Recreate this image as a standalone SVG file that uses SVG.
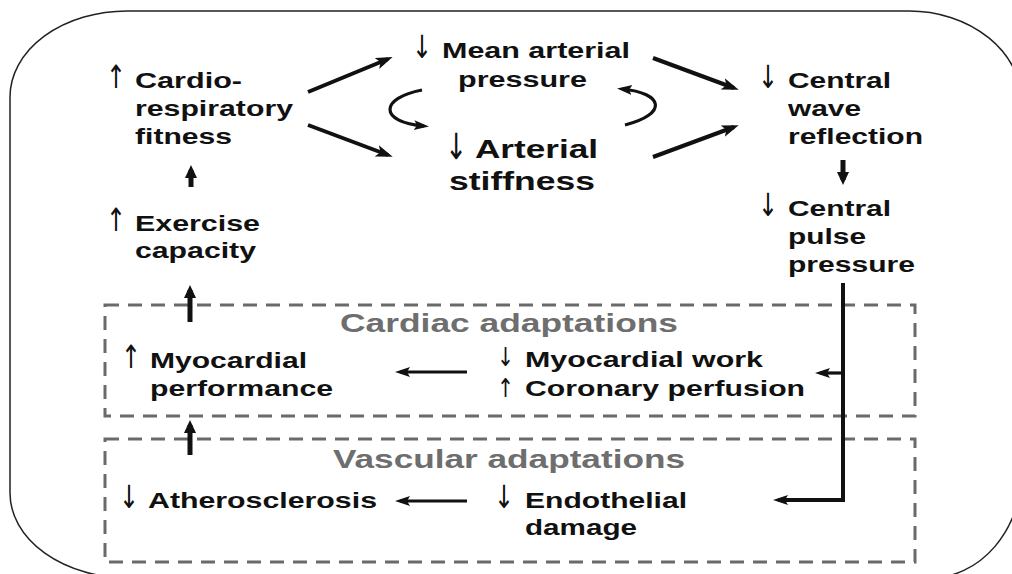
<svg xmlns="http://www.w3.org/2000/svg" width="1012" height="574" viewBox="0 0 1012 574">
<defs>
<style>
.t{font-family:"Liberation Sans",Arial,sans-serif;font-weight:bold;font-size:22px;fill:#111}
.big{font-size:26px}
.hdr{font-family:"Liberation Sans",Arial,sans-serif;font-weight:bold;font-size:25px;fill:#6e6e6e}
.ar{font-family:"DejaVu Sans",sans-serif;font-weight:normal;font-size:32px;fill:#111}
.ars{font-family:"DejaVu Sans",sans-serif;font-weight:normal;font-size:26px;fill:#111}
.c{stroke:#111;stroke-width:4;fill:none}
.c3{stroke:#111;stroke-width:3.2;fill:none}
.box{fill:none;stroke:#6a6a6a;stroke-width:3;stroke-dasharray:14 9}
</style>
<marker id="ah" markerUnits="userSpaceOnUse" markerWidth="18" markerHeight="14" refX="12" refY="6" orient="auto" viewBox="0 0 18 14">
<path d="M0,0 L17,6 L0,12 L4,6 z" fill="#111"/>
</marker>
<marker id="ahs" markerUnits="userSpaceOnUse" markerWidth="16" markerHeight="12" refX="10" refY="5" orient="auto" viewBox="0 0 16 12">
<path d="M0,0 L15,5 L0,10 L3,5 z" fill="#111"/>
</marker>
<marker id="ahv" markerUnits="userSpaceOnUse" markerWidth="16" markerHeight="16" refX="8" refY="6" orient="auto" viewBox="0 0 16 16">
<path d="M0,0 L13,6 L0,12 z" fill="#111"/>
</marker>
</defs>
<rect width="1012" height="574" fill="#fff"/>
<path id="frame" d="M10,97 A117,86 0 0 1 127,11 L909,11 A113,92 0 0 1 1022,103 L1022,470 A92,108 0 0 1 930,578 L129,578 A119,85 0 0 1 10,493 Z" fill="none" stroke="#222" stroke-width="1.5"/>

<rect id="cardiac-box" class="box" x="105" y="305" width="810" height="111"/>
<rect id="vascular-box" class="box" x="105" y="439" width="810" height="123"/>

<g id="n-fitness">
<text class="ar" x="106" y="88" textLength="20" lengthAdjust="spacingAndGlyphs">↑</text>
<text class="t" x="135" y="88" textLength="107" lengthAdjust="spacingAndGlyphs">Cardio-</text>
<text class="t" x="135" y="116" textLength="158" lengthAdjust="spacingAndGlyphs">respiratory</text>
<text class="t" x="135" y="144" textLength="97" lengthAdjust="spacingAndGlyphs">fitness</text>
</g>
<g id="n-exercise">
<text class="ar" x="106" y="231" textLength="20" lengthAdjust="spacingAndGlyphs">↑</text>
<text class="t" x="135" y="231" textLength="125" lengthAdjust="spacingAndGlyphs">Exercise</text>
<text class="t" x="135" y="258" textLength="121" lengthAdjust="spacingAndGlyphs">capacity</text>
</g>
<g id="n-map">
<text class="ar" x="412" y="58" textLength="20" lengthAdjust="spacingAndGlyphs">↓</text>
<text class="t" x="442" y="58" textLength="188" lengthAdjust="spacingAndGlyphs">Mean arterial</text>
<text class="t" x="458" y="87" textLength="129" lengthAdjust="spacingAndGlyphs">pressure</text>
</g>
<g id="n-stiffness">
<text class="ar" x="445" y="159" style="font-size:36px" textLength="22" lengthAdjust="spacingAndGlyphs">↓</text>
<text class="t big" x="475" y="158" textLength="123" lengthAdjust="spacingAndGlyphs">Arterial</text>
<text class="t big" x="449" y="190" textLength="146" lengthAdjust="spacingAndGlyphs">stiffness</text>
</g>
<g id="n-reflection">
<text class="ar" x="758" y="88" textLength="20" lengthAdjust="spacingAndGlyphs">↓</text>
<text class="t" x="788" y="88" textLength="103" lengthAdjust="spacingAndGlyphs">Central</text>
<text class="t" x="788" y="116" textLength="73" lengthAdjust="spacingAndGlyphs">wave</text>
<text class="t" x="788" y="144" textLength="135" lengthAdjust="spacingAndGlyphs">reflection</text>
</g>
<g id="n-pulse">
<text class="ar" x="758" y="216" textLength="20" lengthAdjust="spacingAndGlyphs">↓</text>
<text class="t" x="788" y="216" textLength="103" lengthAdjust="spacingAndGlyphs">Central</text>
<text class="t" x="788" y="244" textLength="78" lengthAdjust="spacingAndGlyphs">pulse</text>
<text class="t" x="788" y="272" textLength="127" lengthAdjust="spacingAndGlyphs">pressure</text>
</g>
<g id="n-cardiac-title">
<text class="hdr" x="340" y="332" textLength="338" lengthAdjust="spacingAndGlyphs">Cardiac adaptations</text>
</g>
<g id="n-myoperf">
<text class="ar" x="121" y="368" textLength="20" lengthAdjust="spacingAndGlyphs">↑</text>
<text class="t" x="150" y="368" textLength="157" lengthAdjust="spacingAndGlyphs">Myocardial</text>
<text class="t" x="150" y="396" textLength="183" lengthAdjust="spacingAndGlyphs">performance</text>
</g>
<g id="n-myowork">
<text class="ars" x="497" y="366" textLength="17" lengthAdjust="spacingAndGlyphs">↓</text>
<text class="t" x="525" y="367" textLength="238" lengthAdjust="spacingAndGlyphs">Myocardial work</text>
<text class="ars" x="497" y="397" textLength="17" lengthAdjust="spacingAndGlyphs">↑</text>
<text class="t" x="525" y="396" textLength="280" lengthAdjust="spacingAndGlyphs">Coronary perfusion</text>
</g>
<g id="n-vascular-title">
<text class="hdr" x="333" y="468" textLength="352" lengthAdjust="spacingAndGlyphs">Vascular adaptations</text>
</g>
<g id="n-athero">
<text class="ar" x="119" y="508" textLength="20" lengthAdjust="spacingAndGlyphs">↓</text>
<text class="t" x="148" y="508" textLength="229" lengthAdjust="spacingAndGlyphs">Atherosclerosis</text>
</g>
<g id="n-endo">
<text class="ar" x="494" y="508" textLength="20" lengthAdjust="spacingAndGlyphs">↓</text>
<text class="t" x="525" y="508" textLength="162" lengthAdjust="spacingAndGlyphs">Endothelial</text>
<text class="t" x="525" y="535" textLength="112" lengthAdjust="spacingAndGlyphs">damage</text>
</g>

<g id="connectors">
<line class="c" x1="308" y1="92" x2="388" y2="59" marker-end="url(#ah)"/>
<line class="c" x1="308" y1="125" x2="388" y2="155" marker-end="url(#ah)"/>
<line class="c" x1="653" y1="58" x2="734" y2="88" marker-end="url(#ah)"/>
<line class="c" x1="653" y1="157" x2="734" y2="127" marker-end="url(#ah)"/>
<path class="c3" d="M422,90 C380,98 378,122 424,126" marker-end="url(#ahs)"/>
<path class="c3" d="M625,125 C668,114 664,93 622,89" marker-end="url(#ahs)"/>
<line class="c" style="stroke-width:5" x1="191" y1="187" x2="191" y2="170" marker-end="url(#ahv)"/>
<line class="c" style="stroke-width:5" x1="843" y1="160" x2="843" y2="180" marker-end="url(#ahv)"/>
<line class="c" style="stroke-width:5" x1="190" y1="322" x2="190" y2="290" marker-end="url(#ahv)"/>
<line class="c" style="stroke-width:5" x1="190" y1="455" x2="190" y2="425" marker-end="url(#ahv)"/>
<path class="c" d="M843,283 V500 H778" marker-end="url(#ahs)"/>
<line class="c3" x1="843" y1="373" x2="820" y2="373" marker-end="url(#ahs)"/>
<line class="c3" x1="467" y1="372" x2="400" y2="372" marker-end="url(#ahs)"/>
<line class="c3" x1="467" y1="501" x2="400" y2="501" marker-end="url(#ahs)"/>
</g>
</svg>
